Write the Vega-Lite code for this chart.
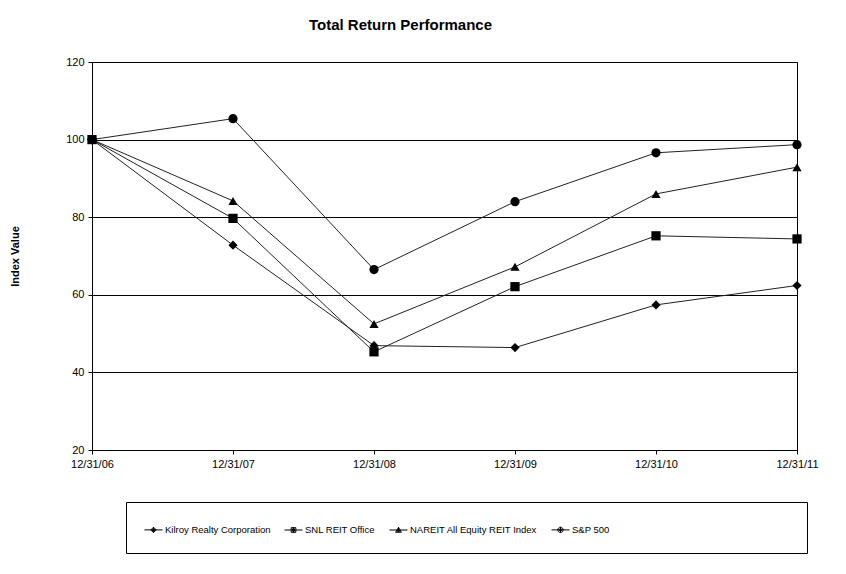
{
  "$schema": "https://vega.github.io/schema/vega-lite/v6.json",
  "width": 705,
  "height": 388,
  "autosize": {"type": "none"},
  "padding": {"left": 92, "top": 62, "right": 49, "bottom": 124},
  "background": "white",
  "title": {
    "text": "Total Return Performance",
    "fontSize": 15,
    "fontWeight": "bold",
    "font": "Liberation Sans",
    "color": "black",
    "dx": -44,
    "offset": 23
  },
  "data": {
    "values": [
      {"series": "Kilroy Realty Corporation", "date": "12/31/06", "value": 100},
      {"series": "Kilroy Realty Corporation", "date": "12/31/07", "value": 72.8},
      {"series": "Kilroy Realty Corporation", "date": "12/31/08", "value": 46.9},
      {"series": "Kilroy Realty Corporation", "date": "12/31/09", "value": 46.4},
      {"series": "Kilroy Realty Corporation", "date": "12/31/10", "value": 57.4},
      {"series": "Kilroy Realty Corporation", "date": "12/31/11", "value": 62.4},
      {"series": "SNL REIT Office", "date": "12/31/06", "value": 100},
      {"series": "SNL REIT Office", "date": "12/31/07", "value": 79.7},
      {"series": "SNL REIT Office", "date": "12/31/08", "value": 45.3},
      {"series": "SNL REIT Office", "date": "12/31/09", "value": 62.1},
      {"series": "SNL REIT Office", "date": "12/31/10", "value": 75.2},
      {"series": "SNL REIT Office", "date": "12/31/11", "value": 74.4},
      {"series": "NAREIT All Equity REIT Index", "date": "12/31/06", "value": 100},
      {"series": "NAREIT All Equity REIT Index", "date": "12/31/07", "value": 84.2},
      {"series": "NAREIT All Equity REIT Index", "date": "12/31/08", "value": 52.5},
      {"series": "NAREIT All Equity REIT Index", "date": "12/31/09", "value": 67.2},
      {"series": "NAREIT All Equity REIT Index", "date": "12/31/10", "value": 86.0},
      {"series": "NAREIT All Equity REIT Index", "date": "12/31/11", "value": 92.9},
      {"series": "S&P 500", "date": "12/31/06", "value": 100},
      {"series": "S&P 500", "date": "12/31/07", "value": 105.4},
      {"series": "S&P 500", "date": "12/31/08", "value": 66.5},
      {"series": "S&P 500", "date": "12/31/09", "value": 84.0},
      {"series": "S&P 500", "date": "12/31/10", "value": 96.6},
      {"series": "S&P 500", "date": "12/31/11", "value": 98.7}
    ]
  },
  "encoding": {
    "x": {
      "field": "date",
      "type": "ordinal",
      "scale": {"type": "point", "padding": 0},
      "axis": {"title": null, "labelAngle": 0, "grid": false, "tickSize": 4, "labelPadding": 4}
    },
    "y": {
      "field": "value",
      "type": "quantitative",
      "scale": {"domain": [20, 120], "nice": false, "zero": false},
      "axis": {
        "title": "Index Value",
        "values": [20, 40, 60, 80, 100, 120],
        "grid": true,
        "gridColor": "black",
        "gridOpacity": 1,
        "gridWidth": 1,
        "tickSize": 4,
        "labelPadding": 4,
        "titlePadding": 45
      }
    }
  },
  "layer": [
    {
      "mark": {"type": "line", "color": "#222222", "strokeWidth": 1},
      "encoding": {"detail": {"field": "series"}}
    },
    {
      "mark": {"type": "point", "filled": true, "color": "black", "opacity": 1, "size": 85},
      "encoding": {
        "shape": {
          "field": "series",
          "type": "nominal",
          "scale": {
            "domain": ["Kilroy Realty Corporation", "SNL REIT Office", "NAREIT All Equity REIT Index", "S&P 500"],
            "range": ["diamond", "square", "triangle-up", "circle"]
          },
          "legend": null
        }
      }
    },
    {
      "mark": {"type": "point", "filled": false, "color": "black", "strokeWidth": 1, "opacity": 0, "size": 324},
      "encoding": {
        "shape": {
          "field": "series",
          "type": "nominal",
          "scale": {
            "domain": ["Kilroy Realty Corporation", "SNL REIT Office", "NAREIT All Equity REIT Index", "S&P 500"],
            "range": [
              "M-1,0H1M0,-0.3L0.3,0L0,0.3L-0.3,0ZM0,-0.17L0.17,0L0,0.17L-0.17,0ZM0,-0.3V0.3",
              "M-1,0H1M-0.26,-0.26H0.26V0.26H-0.26ZM-0.13,-0.13H0.13V0.13H-0.13ZM0,-0.26V0.26",
              "M-1,0H1M0,-0.3L0.32,0.25L-0.32,0.25ZM0,-0.1L0.14,0.14L-0.14,0.14ZM0,-0.3V0.25",
              "M-1,0H1M0.3,0A0.3,0.3,0,1,1,-0.3,0A0.3,0.3,0,1,1,0.3,0ZM0.15,0A0.15,0.15,0,1,1,-0.15,0A0.15,0.15,0,1,1,0.15,0ZM0,-0.3V0.3"
            ]
          },
          "legend": {
            "orient": "none",
            "legendX": 34,
            "legendY": 440,
            "direction": "horizontal",
            "strokeColor": "black",
            "padding": 18,
            "symbolSize": 324,
            "symbolStrokeWidth": 1,
            "symbolStrokeColor": "black",
            "symbolOpacity": 1,
            "labelOffset": 2,
            "columnPadding": 11,
            "labelFontSize": 9.5,
            "title": " ",
            "titleOrient": "right",
            "titlePadding": 180,
            "encode": {
              "symbols": {
                "update": {
                  "stroke": {"value": "black"},
                  "opacity": {"value": 1}
                }
              }
            }
          }
        }
      }
    }
  ],
  "resolve": {"scale": {"shape": "independent"}, "legend": {"shape": "independent"}},
  "config": {
    "font": "Liberation Sans",
    "view": {"stroke": "black", "strokeWidth": 1},
    "axis": {
      "domainColor": "black",
      "tickColor": "black",
      "labelColor": "black",
      "labelFontSize": 11,
      "labelFont": "Liberation Sans",
      "titleFont": "Liberation Sans",
      "titleFontSize": 11,
      "titleFontWeight": "bold",
      "titleColor": "black"
    },
    "legend": {"labelColor": "black", "labelFont": "Liberation Sans"}
  }
}
